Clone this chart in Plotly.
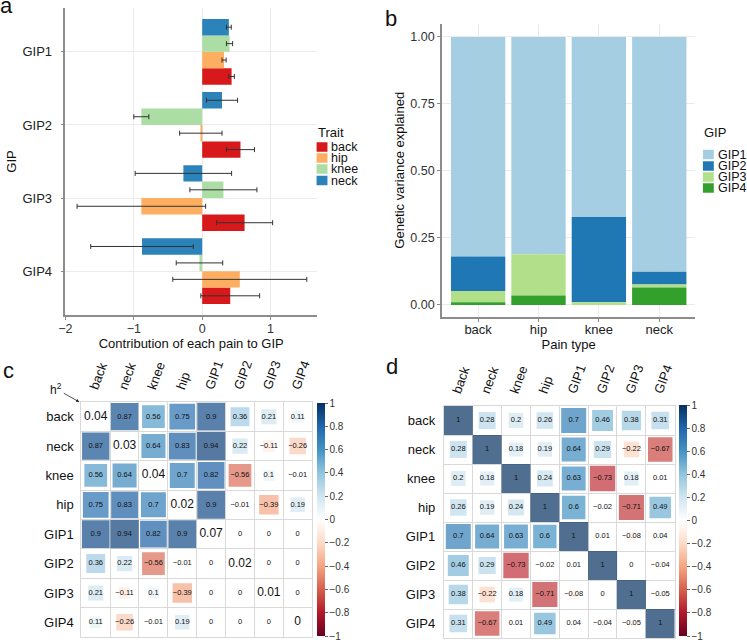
import plotly.graph_objects as go

W, H = 747, 642
FONT = "Liberation Sans, Arial, sans-serif"

# ---------------- panel a data ----------------
gips = ["GIP1", "GIP2", "GIP3", "GIP4"]
traits = ["back", "hip", "knee", "neck"]
trait_colors = ["#D7191C", "#FDAE61", "#ABDDA4", "#2B83BA"]
contrib_back = [0.43, 0.56, 0.62, 0.41]
contrib_hip = [0.32, -0.02, -0.89, 0.55]
contrib_knee = [0.40, -0.89, 0.31, -0.04]
contrib_neck = [0.39, 0.29, -0.275, -0.88]
err_back = [0.04, 0.205, 0.41, 0.43]
err_hip = [0.03, 0.31, 0.94, 0.98]
err_knee = [0.045, 0.11, 0.49, 0.34]
err_neck = [0.035, 0.227, 0.705, 0.75]

# ---------------- panel b data ----------------
pain_types = ["back", "hip", "knee", "neck"]
gip_colors = ["#A6CEE3", "#1F78B4", "#B2DF8A", "#33A02C"]
var_gip1 = [0.819, 0.811, 0.672, 0.876]
var_gip2 = [0.129, 0.0, 0.318, 0.048]
var_gip3 = [0.042, 0.154, 0.010, 0.011]
var_gip4 = [0.010, 0.035, 0.0, 0.065]

# ---------------- panel c / d data ----------------
corr_labels = ["back", "neck", "knee", "hip", "GIP1", "GIP2", "GIP3", "GIP4"]
h2_c = [0.04, 0.03, 0.04, 0.02, 0.07, 0.02, 0.01, 0]
rg_c = [
    [None, 0.87, 0.56, 0.75, 0.9, 0.36, 0.21, 0.11],
    [0.87, None, 0.64, 0.83, 0.94, 0.22, -0.11, -0.26],
    [0.56, 0.64, None, 0.7, 0.82, -0.56, 0.1, -0.01],
    [0.75, 0.83, 0.7, None, 0.9, -0.01, -0.39, 0.19],
    [0.9, 0.94, 0.82, 0.9, None, 0, 0, 0],
    [0.36, 0.22, -0.56, -0.01, 0, None, 0, 0],
    [0.21, -0.11, 0.1, -0.39, 0, 0, None, 0],
    [0.11, -0.26, -0.01, 0.19, 0, 0, 0, None],
]
rp_d = [
    [1, 0.28, 0.2, 0.26, 0.7, 0.46, 0.38, 0.31],
    [0.28, 1, 0.18, 0.19, 0.64, 0.29, -0.22, -0.67],
    [0.2, 0.18, 1, 0.24, 0.63, -0.73, 0.18, 0.01],
    [0.26, 0.19, 0.24, 1, 0.6, -0.02, -0.71, 0.49],
    [0.7, 0.64, 0.63, 0.6, 1, 0.01, -0.08, 0.04],
    [0.46, 0.29, -0.73, -0.02, 0.01, 1, 0, -0.04],
    [0.38, -0.22, 0.18, -0.71, -0.08, 0, 1, -0.05],
    [0.31, -0.67, 0.01, 0.49, 0.04, -0.04, -0.05, 1],
]
cbar_vals = [-1, -0.8, -0.6, -0.4, -0.2, 0, 0.2, 0.4, 0.6, 0.8, 1]

rdbu = ["#67001F", "#B2182B", "#D6604D", "#F4A582", "#FDDBC7", "#FFFFFF",
        "#D1E5F0", "#92C5DE", "#4393C3", "#2166AC", "#053061"]
colorscale = [[i / (len(rdbu) - 1), c] for i, c in enumerate(rdbu)]


def xd(a, b):
    return [a / W, b / W]


def yd(top, bottom):
    return [1 - bottom / H, 1 - top / H]


def px_x(a):
    return a / W


def px_y(a):
    return 1 - a / H


def fmt(v):
    return f"{v:g}".replace("-", "\u2212")


fig = go.Figure()

# ---- panel a: grouped horizontal bars with error bars ----
contribs = [contrib_back, contrib_hip, contrib_knee, contrib_neck]
errs = [err_back, err_hip, err_knee, err_neck]
bw = 0.9 / len(traits)
for i, t in enumerate(traits):
    fig.add_trace(go.Bar(
        x=contribs[i], y=gips, orientation="h", name=t,
        width=bw, offset=-0.45 + i * bw,
        marker=dict(color=trait_colors[i], line=dict(width=0)),
        error_x=dict(type="data", array=errs[i], color="#333333", thickness=1, width=2.5),
        xaxis="x", yaxis="y", showlegend=False, hoverinfo="skip",
    ))

# ---- panel b: stacked bars ----
vars_ = [var_gip1, var_gip2, var_gip3, var_gip4]
for k, g in enumerate(gips):
    base = [sum(vars_[j][p] for j in range(k + 1, len(gips))) for p in range(len(pain_types))]
    fig.add_trace(go.Bar(
        x=pain_types, y=vars_[k], base=base, name=g,
        width=0.9, offset=-0.45,
        marker=dict(color=gip_colors[k], line=dict(width=0)),
        xaxis="x2", yaxis="y2", showlegend=False, hoverinfo="skip",
    ))

# ---- panels c, d: corrplot squares ----
CELL = 29.0


def corr_trace(mat, diag, xa, ya, cax):
    xs, ys, cs, sz, tx, fs = [], [], [], [], [], []
    for i, r in enumerate(corr_labels):
        for j, c in enumerate(corr_labels):
            xs.append(c)
            ys.append(r)
            v = mat[i][j]
            if v is None:
                v = diag[i]
                sz.append(0)
                cs.append(0)
                tx.append(fmt(v))
                fs.append(12)
            else:
                sz.append(CELL * abs(v) ** 0.42 if v != 0 else 0)
                cs.append(v)
                tx.append(fmt(v))
                fs.append(7.5)
    return go.Scatter(
        x=xs, y=ys, mode="markers+text", text=tx,
        textposition="middle center",
        textfont=dict(size=fs, color="#111111", family=FONT),
        marker=dict(symbol="square", size=sz, color=cs, coloraxis=cax, line=dict(width=0)),
        xaxis=xa, yaxis=ya, showlegend=False, hoverinfo="skip",
    )


fig.add_trace(corr_trace(rg_c, h2_c, "x3", "y3", "coloraxis"))
fig.add_trace(corr_trace(rp_d, None, "x4", "y4", "coloraxis2"))

axis_text = dict(family=FONT, size=12.5, color="#333333")
title_font = dict(family=FONT, size=13, color="#111111")
grid_col = "#EBEBEB"
line_col = "#8C8C8C"
cell_grid = "#D9D9D9"

cbar_common = dict(
    thickness=8, thicknessmode="pixels", lenmode="fraction",
    outlinewidth=0, xpad=0, ypad=0, xanchor="left", yanchor="top",
    tickvals=cbar_vals, ticktext=[fmt(v) for v in cbar_vals],
    ticks="outside", ticklen=3, tickcolor="#666666",
    tickfont=dict(family=FONT, size=10, color="#333333"),
)

corr_axis = dict(
    type="category", categoryorder="array", categoryarray=corr_labels,
    tickson="boundaries", showgrid=True, gridcolor=cell_grid, zeroline=False,
    showline=True, mirror=True, linecolor=cell_grid, ticks="",
    tickfont=dict(family=FONT, size=13, color="#111111"),
)

fig.update_layout(
    width=W, height=H,
    margin=dict(l=0, r=0, t=0, b=0),
    paper_bgcolor="white", plot_bgcolor="white",
    barmode="overlay", showlegend=False,
    font=dict(family=FONT, color="#111111"),
    xaxis=dict(
        domain=xd(59, 313), anchor="y", range=[-2.0, 1.68],
        tickvals=[-2, -1, 0, 1], ticktext=["\u22122", "\u22121", "0", "1"],
        showgrid=True, gridcolor=grid_col, zeroline=False,
        showline=True, linecolor=line_col, linewidth=1.5,
        ticks="outside", ticklen=3, tickcolor=line_col, tickfont=axis_text,
        ticklabelstandoff=-2,
        title=dict(text="Contribution of each pain to GIP", font=title_font, standoff=4),
    ),
    yaxis=dict(
        domain=yd(8, 315), anchor="x", type="category",
        categoryorder="array", categoryarray=gips[::-1], range=[-0.6, 3.6],
        showgrid=True, gridcolor=grid_col, zeroline=False,
        showline=True, linecolor=line_col, linewidth=1.5,
        ticks="outside", ticklen=3, tickcolor=line_col, ticklabelstandoff=6,
        tickfont=dict(family=FONT, size=13, color="#222222"),
        title=dict(text="GIP", font=title_font, standoff=3),
    ),
    xaxis2=dict(
        domain=xd(439, 695), anchor="y2", type="category",
        categoryorder="array", categoryarray=pain_types, range=[-0.6, 3.6],
        showgrid=True, gridcolor=grid_col, zeroline=False,
        showline=True, linecolor=line_col, linewidth=1.5,
        ticks="outside", ticklen=3, tickcolor=line_col, ticklabelstandoff=-3,
        tickfont=dict(family=FONT, size=13, color="#222222"),
        title=dict(text="Pain type", font=title_font, standoff=3),
    ),
    yaxis2=dict(
        domain=yd(23.5, 317), anchor="x2", range=[-0.045, 1.05],
        tickvals=[0, 0.25, 0.5, 0.75, 1.0], tickformat=".2f",
        showgrid=True, gridcolor=grid_col, zeroline=False,
        showline=True, linecolor=line_col, linewidth=1.5,
        ticks="outside", ticklen=3, tickcolor=line_col, tickfont=axis_text,
        title=dict(text="Genetic variance explained", font=title_font, standoff=3),
    ),
    xaxis3=dict(domain=xd(75, 308), anchor="y3", side="top", range=[-0.5, 7.5],
                tickangle=-70, ticklabelstandoff=1, ticklabelshift=-4, **corr_axis),
    yaxis3=dict(domain=yd(402, 637), anchor="x3", range=[7.5, -0.5],
                ticklabelstandoff=4, **corr_axis),
    xaxis4=dict(domain=xd(441, 674), anchor="y4", side="top", range=[-0.5, 7.5],
                tickangle=-70, ticklabelstandoff=1, ticklabelshift=-4, **corr_axis),
    yaxis4=dict(domain=yd(406, 638), anchor="x4", range=[7.5, -0.5],
                ticklabelstandoff=5, **corr_axis),
    coloraxis=dict(
        colorscale=colorscale, cmin=-1, cmax=1,
        colorbar=dict(x=313 / W, y=1 - 403 / H, len=233 / H, **cbar_common),
    ),
    coloraxis2=dict(
        colorscale=colorscale, cmin=-1, cmax=1,
        colorbar=dict(x=678 / W, y=1 - 405 / H, len=231 / H, **cbar_common),
    ),
)

# ---- legends (key squares + labels) ----
legend_font = dict(family=FONT, size=12.5, color="#111111")


def add_legend(title, names, colors, key_x, title_y, item_ys, key_w=11, key_h=9.5):
    fig.add_annotation(text=title, x=px_x(key_x), y=px_y(title_y), xref="paper", yref="paper",
                       xanchor="left", yanchor="middle", showarrow=False, borderpad=0,
                       font=dict(family=FONT, size=13, color="#111111"))
    for nm, col, yc in zip(names, colors, item_ys):
        fig.add_shape(type="rect", xref="paper", yref="paper",
                      x0=px_x(key_x), x1=px_x(key_x + key_w),
                      y0=px_y(yc + key_h / 2), y1=px_y(yc - key_h / 2),
                      fillcolor=col, line=dict(width=0))
        fig.add_annotation(text=nm, x=px_x(key_x + key_w + 3), y=px_y(yc), xref="paper", yref="paper",
                           xanchor="left", yanchor="middle", showarrow=False, borderpad=0,
                           font=legend_font)


add_legend("Trait", traits, trait_colors, 312.5, 132.5, [147, 158, 169, 180.5])
add_legend("GIP", gips, gip_colors, 702.5, 132, [154.5, 166, 177, 188])

# panel letters and h2 label
letters = [("a", -8, 14), ("b", 381, 27), ("c", -5, 379), ("d", 382, 375)]
for txt, px, py in letters:
    fig.add_annotation(text=txt, x=px_x(px), y=px_y(py), xref="paper", yref="paper",
                       xanchor="left", yanchor="bottom", showarrow=False, borderpad=0,
                       font=dict(family=FONT, size=22, color="#111111"), yshift=-5)

fig.add_annotation(text="h<sup>2</sup>", x=px_x(73), y=px_y(402), xref="paper", yref="paper",
                   ax=-23, ay=-13, showarrow=True, arrowhead=2, arrowsize=0.8,
                   arrowwidth=0.8, arrowcolor="#222222",
                   font=dict(family=FONT, size=12, color="#111111"))

fig.write_html("out.html", config={"displayModeBar": False},
               post_script="document.body.style.margin='0px';")
